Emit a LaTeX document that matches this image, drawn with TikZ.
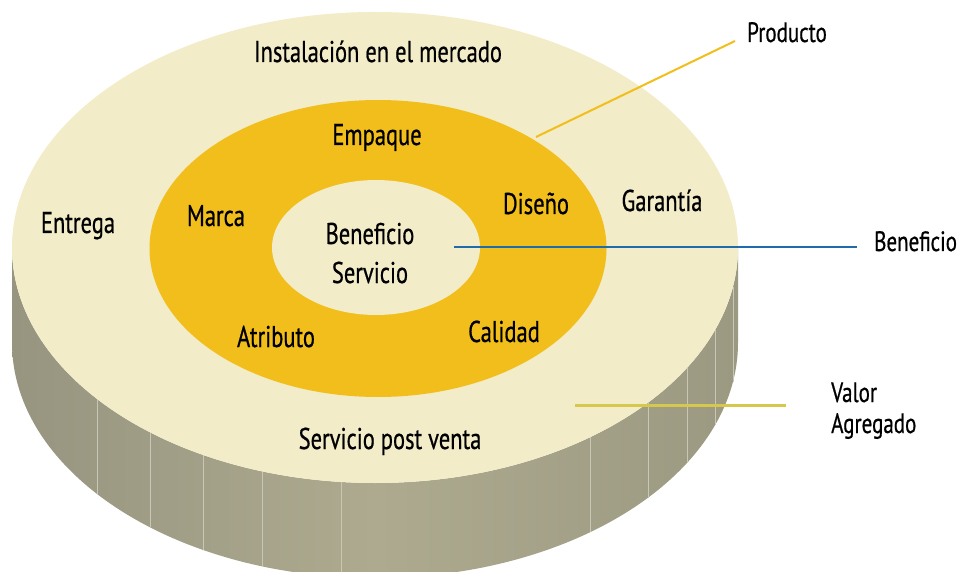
\documentclass[tikz,border=0pt]{standalone}
\usepackage{fontspec}
\setmainfont[FakeStretch=0.75,FakeBold=0.6]{PT Sans}
\usetikzlibrary{calc}
\definecolor{cream}{HTML}{F2ECC8}
\definecolor{gold}{HTML}{F1BE1C}
\definecolor{sidel}{HTML}{979580}
\definecolor{sidem}{HTML}{ADAA8F}
\definecolor{sider}{HTML}{9B9981}
\definecolor{sideline}{HTML}{C8C6B4}
\definecolor{blueline}{HTML}{1F6CAC}
\definecolor{oliveline}{HTML}{D5C84C}
\begin{document}
\begin{tikzpicture}[x=1pt,y=-1pt,
  lbl/.style={font=\fontsize{30}{32}\selectfont, anchor=base, inner sep=0pt, text=black},
  side/.style={font=\fontsize{28}{30}\selectfont, anchor=base west, inner sep=0pt, text=black}]
\clip (0,0) rectangle (961,572);
\useasboundingbox (0,0) rectangle (961,572);
% cylinder side
\shade[left color=sidel, right color=sider, middle color=sidem]
  (738,247.5) -- (738,342.5) arc[start angle=0,end angle=180,x radius=363,y radius=235.5]
  -- (12,247.5) arc[start angle=180,end angle=0,x radius=363,y radius=235.5] -- cycle;
\foreach \a in {140,128.3,118.3,108,95.4,53.7,41.2,30.7,20.5,9.6}
  \draw[sideline, line width=0.7pt] ($(375,247.5)+(\a:363 and 235.5)$) -- ++(0,95);
% top disc
\fill[cream] (375,247.5) ellipse[x radius=363, y radius=235.5];
\fill[gold] (378,248.5) ellipse[x radius=228.5, y radius=148.5];
\fill[cream] (376,247.5) ellipse[x radius=104, y radius=67.5];
% labels
\node[lbl] (inst) at (378,62) {Instalación en el mercado};
\node[lbl] (emp) at (377,145) {Empaque};
\node[lbl] (mar) at (216,226) {Marca};
\node[lbl] (dis) at (536,214) {Diseño};
\node[lbl] (ben) at (370,244) {Beneficio};
\node[lbl] (ser) at (370,283) {Servicio};
\node[lbl] (atr) at (276,347) {Atributo};
\node[lbl] (cal) at (504,342) {Calidad};
\node[lbl] (gar) at (662,211) {Garantía};
\node[lbl] (ent) at (78,233) {Entrega};
\node[lbl] (spv) at (390,449) {Servicio post venta};
\node[side] (prod) at (747,42) {Producto};
\node[side] (benr) at (874,251) {Beneficio};
\node[side] (val) at (831,402) {Valor};
\node[side] (agr) at (831,433) {Agregado};
% connectors
\coordinate (p1) at (536,137);
\coordinate (p2) at (735,41);
\coordinate (b1) at (454,247);
\coordinate (b2) at (857,247);
\coordinate (v1) at (575,405.5);
\coordinate (v2) at (786,405.5);
\draw[gold, line width=2pt] (p1) -- (p2);
\draw[blueline, line width=2.5pt] (b1) -- (b2);
\draw[oliveline, line width=2.5pt] (v1) -- (v2);
\end{tikzpicture}
\end{document}
